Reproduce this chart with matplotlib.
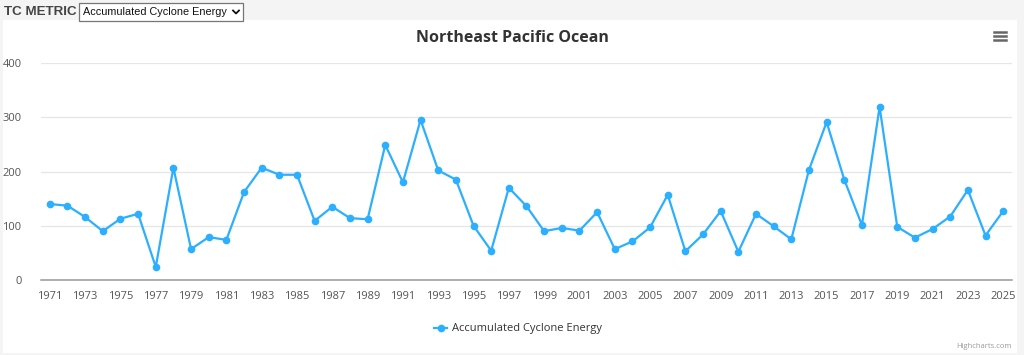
import matplotlib
matplotlib.use("Agg")
import matplotlib.pyplot as plt
from matplotlib.patches import Rectangle
from matplotlib.lines import Line2D

plt.rcParams['font.family'] = ['Open Sans', 'DejaVu Sans']

# Accumulated Cyclone Energy, Northeast Pacific, per year
years = list(range(1971, 2026))
ace = [140, 137, 116, 90, 113, 122, 24, 207, 57, 79,
       74, 162, 207, 194, 194, 109, 135, 114, 112, 249,
       180, 295, 202, 185, 100, 54, 170, 136, 90, 96,
       91, 125, 57, 71, 97, 157, 53, 84, 127, 52,
       122, 99, 75, 203, 291, 185, 101, 319, 98, 78,
       94, 117, 166, 82, 127]
tick_years = years[::2]
y_ticks = [0, 100, 200, 300, 400]

line_color = '#2caffe'
W, H = 1024, 355

fig = plt.figure(figsize=(W / 100, H / 100), dpi=100)
fig.patch.set_facecolor('#f4f4f4')

# white chart panel (behind the axes)
fig.patches.append(Rectangle((3 / W, 1 - 353 / H), 1014 / W, 333 / H,
                             transform=fig.transFigure, facecolor='white',
                             edgecolor='none', zorder=-5))

# page header
hdr_font = ['Liberation Sans', 'DejaVu Sans']
fig.text(4 / W, 1 - 12 / H, 'TC METRIC', fontsize=9.6, fontweight='bold',
         color='#444444', va='center', ha='left', family=hdr_font)
fig.patches.append(Rectangle((79 / W, 1 - 21 / H), 164 / W, 18 / H,
                             transform=fig.transFigure, facecolor='white',
                             edgecolor='#767676', linewidth=0.9, zorder=1))
fig.text(83 / W, 1 - 12 / H, 'Accumulated Cyclone Energy', fontsize=7.8,
         color='#111111', va='center', ha='left', family=hdr_font)
fig.lines.append(Line2D([233 / W, 236 / W, 239 / W], [1 - 10.5 / H, 1 - 13.5 / H, 1 - 10.5 / H],
                        transform=fig.transFigure, color='#111111', linewidth=1.3))

ax = fig.add_axes([41 / W, 1 - 280 / H, 971 / W, 217 / H])
ax.set_facecolor('none')
ax.plot(years, ace, color=line_color, linewidth=1.6, marker='o',
        markersize=5.5, markeredgewidth=0, zorder=3, clip_on=False)

ax.set_xlim(1970.5, 2025.5)
ax.set_ylim(0, 400)
ax.set_xticks(tick_years)
ax.set_xticklabels([str(y) for y in tick_years])
ax.set_yticks(y_ticks)
ax.grid(axis='y', color='#e6e6e6', linewidth=0.9)
ax.set_axisbelow(True)
for s in ['top', 'right', 'left']:
    ax.spines[s].set_visible(False)
ax.spines['bottom'].set_color('#999999')
ax.spines['bottom'].set_linewidth(1.1)
ax.tick_params(axis='x', length=0, pad=8, labelsize=8, labelcolor='#555555')
ax.tick_params(axis='y', length=0, pad=14, labelsize=8, labelcolor='#555555')

fig.text(512 / W, 1 - 38 / H, 'Northeast Pacific Ocean', fontsize=11.5,
         fontweight='bold', color='#333333', ha='center', va='center')

# context menu icon
for dy in (32, 36, 40):
    fig.lines.append(Line2D([994 / W, 1006 / W], [1 - dy / H, 1 - dy / H],
                            transform=fig.transFigure, color='#666666', linewidth=1.8))

# legend
fig.lines.append(Line2D([434 / W, 447 / W], [1 - 328 / H, 1 - 328 / H],
                        transform=fig.transFigure, color=line_color, linewidth=1.6))
fig.lines.append(Line2D([440.5 / W], [1 - 328 / H], transform=fig.transFigure,
                        color=line_color, marker='o', markersize=5.5, markeredgewidth=0))
fig.text(452 / W, 1 - 328 / H, 'Accumulated Cyclone Energy', fontsize=8,
         color='#333333', ha='left', va='center')

fig.text(1012 / W, 1 - 346 / H, 'Highcharts.com', fontsize=5.5, color='#999999',
         ha='right', va='center')

fig.savefig('out.png', dpi=100, facecolor=fig.get_facecolor())
